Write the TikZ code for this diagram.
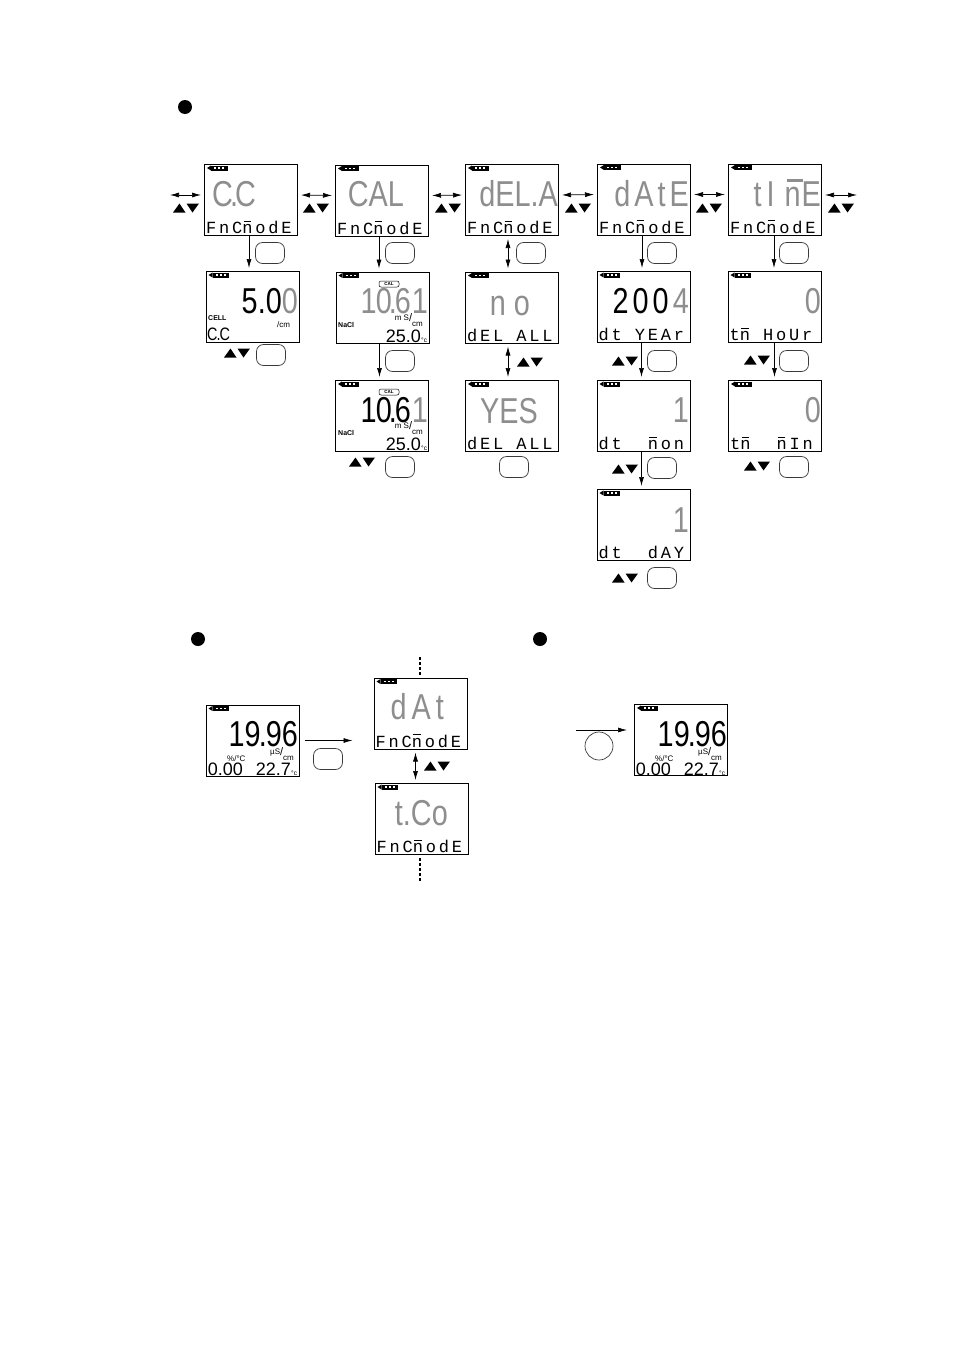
\documentclass[tikz,border=0pt]{standalone}
\usepackage{fontspec}
\setmainfont{Liberation Sans}
\newfontfamily\segface[FakeStretch=0.8]{Liberation Sans}
\newfontfamily\segmono[LetterSpace=16.5]{Liberation Mono}
\usepackage{xcolor}
\usepackage{tikz}
\usetikzlibrary{calc,arrows.meta}
\definecolor{lcdoff}{HTML}{8E8E8E}
\definecolor{keyline}{HTML}{3A3A3A}
\newcommand{\nbar}{\rlap{\hspace{.07em}\rule[.68em]{.44em}{.08em}}n}
\newcommand{\off}[1]{\textcolor{lcdoff}{#1}}
\newcommand{\slashcm}{\raisebox{-1pt}{\fontsize{11}{11}\selectfont/}\raisebox{-6pt}{cm}}
\newcommand{\lcdscreen}[3]{%
  \node[lcd] (#1) at (#2,#3) {};
  \pic at (#1.north west) {batt};}
\newcommand{\lcdline}[2]{%
  \node[segline] (#1line) at ([shift={(2pt,2.5pt)}]#1.south west) {#2};}
\tikzset{
  lcd/.style={draw, line width=1pt, minimum width=93pt, minimum height=71pt, inner sep=0pt},
  segon/.style={font=\fontsize{36}{36}\segface, text=black, inner sep=0pt, anchor=base east},
  segoff/.style={segon, text=lcdoff},
  segline/.style={font=\fontsize{17}{17}\segmono, inner sep=0pt, anchor=base west},
  segmid/.style={font=\fontsize{18}{18}\selectfont, inner sep=0pt, anchor=base east},
  tiny/.style={font=\fontsize{8}{8}\selectfont, inner sep=0pt},
  tinybold/.style={font=\fontsize{7}{7}\selectfont\bfseries, inner sep=0pt, anchor=base west},
  caltag/.style={draw, rounded corners=2pt, line width=.5pt, minimum width=20pt, minimum height=6pt,
    font=\fontsize{4.5}{4.5}\selectfont\bfseries, inner sep=0pt},
  btn/.style={draw=keyline, rounded corners=7pt, line width=.7pt, minimum width=29pt, minimum height=21pt},
  dot/.style={circle, fill=black, minimum size=14pt, inner sep=0pt},
  flow/.style={-{Latex[length=9pt,width=5pt]}, line width=.7pt, shorten >=3pt},
  twoway/.style={{Latex[length=9pt,width=5pt]}-{Latex[length=9pt,width=5pt]}, line width=.7pt,
    shorten >=3pt, shorten <=3pt},
  dots/.style={line width=1.3pt, dash pattern=on 3pt off 2pt, shorten >=3pt},
  batt/.pic={
    \fill (3,4) -- (7,1.5) -- (7,6.5) -- cycle;
    \fill (7,1.5) rectangle (23.5,6.5);
    \fill[white] (10,3.4) rectangle (12,4.6);
    \fill[white] (14,3.4) rectangle (16,4.6);
    \fill[white] (18,3.4) rectangle (20,4.6);
  },
  keys/.pic={
    \fill (-13,4.5) -- (-6.5,-4.5) -- (-.5,4.5) -- cycle;
    \fill (.5,-4.5) -- (13,-4.5) -- (6.5,4.5) -- cycle;
  }
}
\begin{document}
\begin{tikzpicture}[x=1pt,y=-1pt]
  \useasboundingbox[fill=white] (0,0) rectangle (954,1352);

  % first block
  \node[dot] (secA) at (185,107) {};

  \lcdscreen{cc}{251}{200}
  \lcdline{cc}{FnC\nbar odE}
  \node[segoff] (ccbig) at (256,206) {C\kern-3pt.\kern-3pt C};
  \lcdscreen{cal}{382}{200.5}
  \lcdline{cal}{FnC\nbar odE}
  \node[segoff] (calbig) at (404,206) {CAL};
  \lcdscreen{del}{512}{200}
  \lcdline{del}{FnC\nbar odE}
  \node[segoff] (delbig) at (558,206) {dEL.A};
  \lcdscreen{date}{644}{199.5}
  \lcdline{date}{FnC\nbar odE}
  \node[segoff] (datebig) at (689,206) {d\kern4pt A\kern4pt t\kern4pt E};
  \lcdscreen{time}{775}{199.5}
  \lcdline{time}{FnC\nbar odE}
  \node[segoff] (timebig) at (821,206) {t\kern5pt I\kern10pt\nbar\kern1pt E};

  \lcdscreen{ccval}{252.5}{307}
  \node[segon] (ccvalbig) at (298,313) {5.0\off{0}};
  \node[tinybold] (ccvalcell) at (208,320) {CELL};
  \node[tiny, anchor=base west] (ccvalcm) at (277,327) {/cm};
  \node[segmid, anchor=base west, font=\fontsize{18}{18}\segface] (ccvalline) at (207,340) {C\kern-1pt.\kern-1pt C};
  \lcdscreen{calval}{382.5}{307.5}
  \node[segoff] (calvalbig) at (428,313) {1\kern-1pt 0\kern-3pt.\kern-2pt 6\kern1pt 1};
  \node[caltag] (calvaltag) at (389,284) {CAL};
  \node[tinybold] (calvalnacl) at (338,327) {NaCl};
  \node[tiny, anchor=base east] (calvalunit) at (423,320) {m S\slashcm};
  \node[segmid] (calvaltemp) at (421,342) {25.0};
  \node[tiny, anchor=base west, font=\fontsize{6.5}{6.5}\selectfont] (calvaldeg) at (421,342) {°c};
  \lcdscreen{delno}{512}{307.5}
  \lcdline{delno}{dEL~ALL}
  \node[segoff] (delnobig) at (530,315) {n\kern8pt o};
  \lcdscreen{year}{643.5}{307}
  \lcdline{year}{dt~YEAr}
  \node[segon] (yearbig) at (689,313) {2\kern4pt 0\kern4pt 0\kern4pt\off{4}};
  \lcdscreen{hour}{774.5}{307}
  \lcdline{hour}{t\nbar~HoUr}
  \node[segoff] (hourbig) at (821,313) {0};

  \lcdscreen{calhold}{382}{416}
  \node[segon] (calholdbig) at (428,422) {1\kern-1pt 0\kern-3pt.\kern-2pt 6\kern1pt\off{1}};
  \node[caltag] (calholdtag) at (389,392) {CAL};
  \node[tinybold] (calholdnacl) at (338,435) {NaCl};
  \node[tiny, anchor=base east] (calholdunit) at (423,428) {m S\slashcm};
  \node[segmid] (calholdtemp) at (421,450) {25.0};
  \node[tiny, anchor=base west, font=\fontsize{6.5}{6.5}\selectfont] (calholddeg) at (421,450) {°c};
  \lcdscreen{delyes}{512}{416}
  \lcdline{delyes}{dEL~ALL}
  \node[segoff] (delyesbig) at (538,423) {YES};
  \lcdscreen{mon}{643.5}{416}
  \lcdline{mon}{dt~~\nbar on}
  \node[segoff] (monbig) at (689,422) {1};
  \lcdscreen{mins}{775}{416}
  \lcdline{mins}{t\nbar~~\nbar In}
  \node[segoff] (minsbig) at (821,422) {0};
  \lcdscreen{day}{643.5}{525}
  \lcdline{day}{dt~~dAY}
  \node[segoff] (daybig) at (689,532) {1};

  \draw[twoway] ([yshift=5pt]cc.east) -- ([yshift=5pt]cal.west);
  \draw[twoway] ([yshift=5pt]cal.east) -- ([yshift=5pt]del.west);
  \draw[twoway] ([yshift=5pt]del.east) -- ([yshift=5pt]date.west);
  \draw[twoway] ([yshift=5pt]date.east) -- ([yshift=5pt]time.west);
  \coordinate (loopin) at (170,195);
  \coordinate (loopout) at (857,195);
  \draw[twoway, shorten <=0pt] (loopin) -- (loopin -| cc.west);
  \draw[twoway, shorten <=0pt] (loopout) -- (loopout -| time.east);
  \pic at (186,208) {keys};
  \pic at (316,208) {keys};
  \pic at (448,208) {keys};
  \pic at (578,208) {keys};
  \pic at (709,208) {keys};
  \pic at (841,208) {keys};

  \draw[flow] ([xshift=-2pt]cc.south) -- ([xshift=-2pt]cc.south |- ccval.north);
  \draw[flow] ([xshift=-3pt]cal.south) -- ([xshift=-3pt]cal.south |- calval.north);
  \draw[flow] ([xshift=-3pt]calval.south) -- ([xshift=-3pt]calval.south |- calhold.north);
  \draw[twoway] ([xshift=-4pt]del.south) -- ([xshift=-4pt]del.south |- delno.north);
  \draw[twoway] ([xshift=-4pt]delno.south) -- ([xshift=-4pt]delno.south |- delyes.north);
  \draw[flow] ([xshift=-2pt]date.south) -- ([xshift=-2pt]date.south |- year.north);
  \draw[flow] ([xshift=-2pt]year.south) -- ([xshift=-2pt]year.south |- mon.north);
  \draw[flow] ([xshift=-2pt]mon.south) -- ([xshift=-2pt]mon.south |- day.north);
  \draw[flow] ([xshift=-1pt]time.south) -- ([xshift=-1pt]time.south |- hour.north);
  \draw[flow] (hour.south) -- (hour.south |- mins.north);

  \node[btn] (btncc) at (270,253) {};
  \node[btn] (btncal) at (400,253) {};
  \node[btn] (btndel) at (531,253) {};
  \node[btn] (btndate) at (662,253) {};
  \node[btn] (btntime) at (794,253) {};
  \node[btn] (btnccval) at (271,355) {};
  \node[btn] (btncalval) at (400,361) {};
  \node[btn] (btnyear) at (662,361) {};
  \node[btn] (btnhour) at (794,361) {};
  \node[btn] (btncalhold) at (400,467) {};
  \node[btn] (btnyes) at (514,467) {};
  \node[btn] (btnmon) at (662,468) {};
  \node[btn] (btnmins) at (794,467) {};
  \node[btn] (btnday) at (662,578) {};
  \pic at (237,353) {keys};
  \pic at (530,362) {keys};
  \pic at (625,361) {keys};
  \pic at (757,360) {keys};
  \pic at (362,462) {keys};
  \pic at (625,469) {keys};
  \pic at (757,466) {keys};
  \pic at (625,578) {keys};

  % second block
  \node[dot] (secB) at (198,639) {};
  \lcdscreen{live}{252.5}{740.5}
  \node[segon] (livebig) at (298,746) {19\kern-2pt.\kern-1pt 96};
  \node[tiny, anchor=base west] (livecoef) at (227,761) {\%/°C};
  \node[tiny, anchor=base west] (liveunit) at (270,754) {µS\slashcm};
  \node[segmid] (livecomp) at (243,775) {0.00};
  \node[segmid] (livetemp) at (291,775) {22.7};
  \node[tiny, anchor=base west, font=\fontsize{6.5}{6.5}\selectfont] (livedeg) at (291,775) {°c};
  \lcdscreen{dat}{420.5}{713.5}
  \lcdline{dat}{FnC\nbar odE}
  \node[segoff] (datbig) at (444,719) {d\kern5pt A\kern5pt t};
  \lcdscreen{tco}{421.5}{819}
  \lcdline{tco}{FnC\nbar odE}
  \node[segoff] (tcobig) at (448,825) {t.Co};
  \node[btn] (btnlive) at (328,759) {};
  \draw[flow, shorten <=5pt, shorten >=21pt] (live.east) -- (live.east -| dat.west);
  \draw[twoway] ([xshift=-5pt]dat.south) -- ([xshift=-5pt]dat.south |- tco.north);
  \pic at (437,766) {keys};
  \coordinate (datup) at (420,657);
  \coordinate (tcodown) at (420,881);
  \draw[dots] (datup) -- (datup |- dat.north);
  \draw[dots] (tcodown) -- (tcodown |- tco.south);

  % third block
  \node[dot] (secC) at (540,639) {};
  \lcdscreen{liveb}{681}{740}
  \node[segon] (livebbig) at (727,746) {19\kern-2pt.\kern-1pt 96};
  \node[tiny, anchor=base west] (livebcoef) at (655,761) {\%/°C};
  \node[tiny, anchor=base west] (livebunit) at (698,754) {µS\slashcm};
  \node[segmid] (livebcomp) at (671,775) {0.00};
  \node[segmid] (livebtemp) at (719,775) {22.7};
  \node[tiny, anchor=base west, font=\fontsize{6.5}{6.5}\selectfont] (livebdeg) at (719,775) {°c};
  \coordinate (backin) at (576,730);
  \draw[flow, shorten >=7pt] (backin) -- (backin -| liveb.west);
  \node[draw=keyline, circle, line width=.7pt, minimum size=28pt, inner sep=0pt] (btnback) at (599,746) {};
\end{tikzpicture}
\end{document}
